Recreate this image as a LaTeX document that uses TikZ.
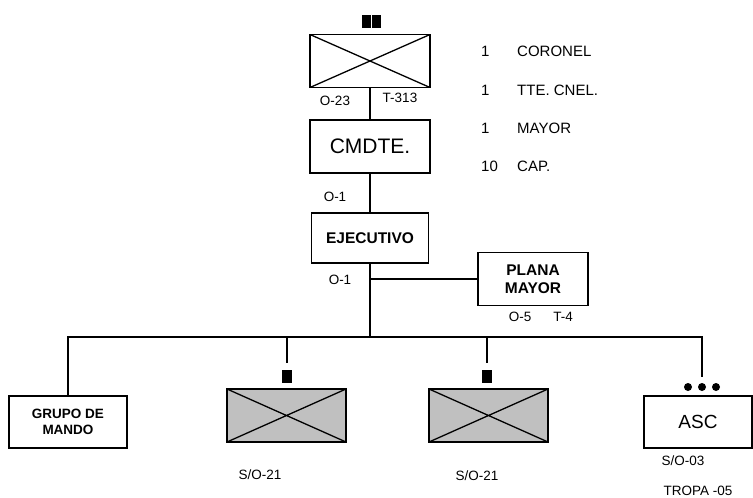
\documentclass[tikz,border=0pt]{standalone}
\usepackage{fontspec}
\setmainfont{Liberation Sans}
\usetikzlibrary{positioning}
\definecolor{unitgray}{RGB}{192,192,192}
\tikzset{
unit/.style={draw,line width=1.8pt,minimum width=120pt,minimum height=53pt,inner sep=0pt,
  path picture={\draw[line width=1.3pt](path picture bounding box.north west)--(path picture bounding box.south east)
  (path picture bounding box.south west)--(path picture bounding box.north east);}},
block/.style={draw,line width=1.8pt,align=center,inner sep=0pt,font=\fontsize{15.5}{18}\selectfont\bfseries},
bigblock/.style={block,font=\fontsize{20}{24}\selectfont},
echelon/.style={fill,inner sep=0pt,minimum width=9pt,minimum height=13pt},
dot/.style={circle,fill,inner sep=0pt,minimum size=8pt},
lbl/.style={inner sep=0pt,text depth=0pt,font=\fontsize{13.5}{16}\selectfont},
rank/.style={inner sep=0pt,text depth=0pt,anchor=west,font=\fontsize{15}{18}\selectfont},
conn/.style={line width=1.8pt}
}
\begin{document}
\begin{tikzpicture}[x=1pt,y=-1pt]
\useasboundingbox (0,0) rectangle (753,498);
\node[unit] (regt) at (370,61) {};
\node[echelon] (regte1) at (366.2,21.5) {};
\node[echelon] (regte2) at (376.2,21.5) {};
\node[bigblock,minimum width=120pt,minimum height=53pt,font=\fontsize{21}{25}\selectfont] (cmdte) at (370,146.5) {CMDTE.};
\node[block,minimum width=117pt,minimum height=50pt] (ejec) at (370,238) {EJECUTIVO};
\node[block,minimum width=110pt,minimum height=53pt] (plana) at (533,279) {PLANA\\MAYOR};
\node[block,minimum width=118pt,minimum height=52pt,font=\fontsize{13.5}{16}\selectfont\bfseries] (grupo) at (68,422) {GRUPO DE\\MANDO};
\node[unit,fill=unitgray,minimum width=119pt] (cia1) at (286.5,415.5) {};
\node[unit,fill=unitgray,minimum width=119pt] (cia2) at (488.5,415.5) {};
\node[bigblock,minimum width=108pt,minimum height=52pt,font=\fontsize{19}{23}\selectfont] (asc) at (698,422) {ASC};
\node[echelon,minimum width=10pt] (cia1e) at (287,376.5) {};
\node[echelon,minimum width=10pt] (cia2e) at (487,376.5) {};
\foreach \x [count=\i] in {688,702,716}
  \node[dot] (dot\i) at (\x,387) {};

\coordinate (bus) at (370,337);
\coordinate (ascstub) at (702,377);
\draw[conn] (regt) -- (cmdte);
\draw[conn] (cmdte) -- (ejec);
\draw[conn] (ejec) -- (bus);
\draw[conn] (ejec.south |- plana.west) -- (plana.west);
\draw[conn] (grupo.north) |- (bus) -| (ascstub);
\draw[conn] (cia1e.north |- bus) -- ([yshift=7pt]cia1e.north);
\draw[conn] (cia2e.north |- bus) -- ([yshift=7pt]cia2e.north);

% strength labels
\node[lbl] (o23) at (335,101) {O-23};
\node[lbl] (t313) at (400,98) {T-313};
\node[lbl] (o1a) at (335,197) {O-1};
\node[lbl] (o1b) at (340,280) {O-1};
\node[lbl] (o5) at (520,317) {O-5};
\node[lbl] (t4) at (563,317) {T-4};
\node[lbl] (so21a) at (260,475) {S/O-21};
\node[lbl] (so21b) at (477,476) {S/O-21};
\node[lbl] (so03) at (683,461) {S/O-03};
\node[lbl] (tropa) at (698,491) {TROPA -05};

% officers
\node[rank] (n1) at (481,51) {1};
\node[rank] (r1) at (517,51) {CORONEL};
\node[rank] (n2) at (481,90) {1};
\node[rank] (r2) at (517,90) {TTE. CNEL.};
\node[rank] (n3) at (481,128) {1};
\node[rank] (r3) at (517,128) {MAYOR};
\node[rank] (n4) at (481,166) {10};
\node[rank] (r4) at (517,166) {CAP.};
\end{tikzpicture}
\end{document}
